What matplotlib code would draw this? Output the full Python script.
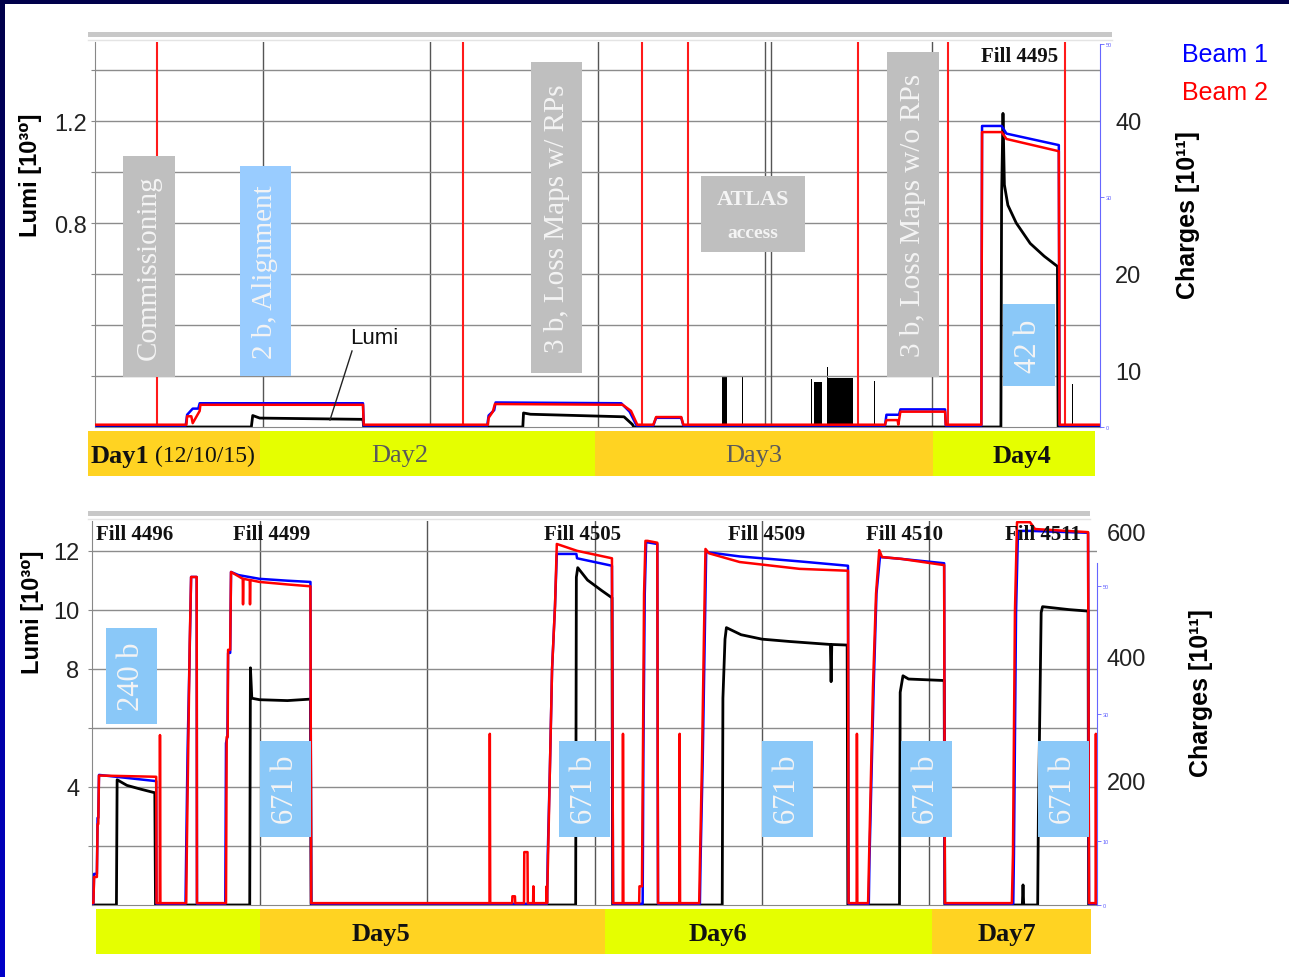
import matplotlib
matplotlib.use("Agg")
import matplotlib.pyplot as plt
import numpy as np
from matplotlib.colors import LinearSegmentedColormap
from matplotlib.patches import Rectangle

plt.rcParams["font.family"] = ["Liberation Sans", "DejaVu Sans"]
SERIF = ["Liberation Serif", "DejaVu Serif"]

# x is hours since 12:00 on 12/10/15 (each panel shows 72 h), charges in 1e11, lumi in 1e30
GRID_HOURS = [12, 24, 36, 48, 60]

# ---- top panel (Day1-Day4) ----
TOP_B1_H = [0, 6.5, 6.6, 7.0, 7.4, 7.5, 19.2, 19.25,
            28.1, 28.2, 28.6, 28.7, 37.7, 38.3, 38.8,
            40.0, 40.2, 42.0, 42.15,
            56.6, 56.7, 57.6, 57.7, 60.9, 60.95,
            63.5, 63.55, 64.95, 65.3, 69.05, 69.1, 72]
TOP_B1_Q = [0.2, 0.2, 1.6, 2.4, 2.4, 3.1, 3.1, 0.2,
            0.2, 1.5, 2.2, 3.2, 3.1, 2.0, 0.2,
            0.2, 1.2, 1.2, 0.2,
            0.2, 1.6, 1.6, 2.3, 2.3, 0.2,
            0.2, 39.3, 39.3, 38.3, 36.8, 0.2, 0.2]
TOP_B2_H = [0, 6.55, 6.6, 6.9, 7.0, 7.5, 7.55, 19.2, 19.25,
            28.15, 28.2, 28.5, 28.65, 37.8, 38.4, 38.85,
            40.0, 40.2, 42.0, 42.15,
            56.6, 56.7, 57.5, 57.55, 57.7, 60.9, 60.95,
            63.5, 63.55, 64.95, 65.3, 69.05, 69.1, 72]
TOP_B2_Q = [0.3, 0.3, 1.4, 1.4, 0.5, 2.1, 2.9, 2.9, 0.3,
            0.3, 1.2, 2.0, 3.0, 2.9, 2.1, 0.3,
            0.3, 1.3, 1.3, 0.3,
            0.3, 0.9, 0.9, 0.3, 2.0, 2.0, 0.3,
            0.3, 38.5, 38.5, 37.6, 36.0, 0.3, 0.3]
TOP_LUMI_H = [0, 11.2, 11.3, 11.8, 19.2, 19.25,
              30.65, 30.7, 31.2, 37.9, 38.5, 38.6,
              64.9, 64.95, 65.05, 65.15, 65.4, 66.0, 67.0, 68.0, 68.95, 69.0, 72]
TOP_LUMI_V = [0, 0, 0.045, 0.035, 0.03, 0,
              0, 0.055, 0.05, 0.04, 0.01, 0,
              0, 0.9, 1.23, 0.95, 0.87, 0.8, 0.72, 0.67, 0.63, 0, 0]
# short lumi bursts during the ATLAS access period
TOP_SPIKE_H = [44.92, 46.35, 51.3, 51.5, 52.44, 52.44, 55.8, 70.0]
TOP_SPIKE_W = [0.36, 0.08, 0.1, 0.57, 0.08, 1.86, 0.06, 0.06]
TOP_SPIKE_V = [0.2, 0.2, 0.19, 0.177, 0.235, 0.192, 0.18, 0.17]
TOP_MARKERS = [4.44, 26.36, 39.19, 42.48, 54.66, 61.11, 69.49]
TOP_EXTRA_LINE = 48.43

TOP_DAYS = ["Day1", "Day2", "Day3", "Day4"]
TOP_DAY_START = [-0.5, 11.82, 35.82, 60.04]
TOP_DAY_END = [11.82, 35.82, 60.04, 71.64]
TOP_DAY_TEXT_H = [-0.35, 21.8, 47.2, 66.4]
TOP_DAY_BOLD = [True, False, False, True]
TOP_DAY_NOTE = "(12/10/15)"
TOP_DAY_NOTE_H = 4.3

# ---- bottom panel (Day5-Day7) ----
BOT_B2_H = [0.0, 0.1, 0.15, 0.35, 0.4, 0.45, 0.5, 4.6, 4.62,
            4.85, 4.87, 4.9,
            6.75, 6.8, 6.9, 7.0, 7.1, 7.5, 7.52,
            9.6, 9.65, 9.72, 9.75, 9.9, 9.96, 10.5, 10.8, 10.82, 10.85, 11.3, 11.32, 11.35, 12.0, 14.0, 15.65, 15.7,
            28.48, 28.5, 28.53,
            30.1, 30.12, 30.3, 30.32, 30.95, 30.97, 31.2, 31.22, 31.6, 31.62, 31.65,
            32.55, 32.57, 32.6, 32.67, 32.8, 32.96, 33.17, 33.3, 34.75, 37.25, 37.33,
            38.02, 38.04, 38.07,
            39.2, 39.22, 39.4, 39.47, 39.55, 39.65, 39.8, 40.5, 40.55,
            42.08, 42.1, 42.13,
            43.5, 43.56, 43.7, 43.84, 43.95, 44.2, 46.4, 50.7, 54.16, 54.2,
            54.78, 54.8, 54.83,
            55.6, 55.67, 55.95, 56.17, 56.4, 56.6, 58.0, 61.05, 61.1,
            65.9, 65.98, 66.12, 66.27, 67.2, 67.56, 71.36, 71.43,
            71.9, 71.92, 71.95]
BOT_B2_Q = [3, 3, 45, 45, 130, 130, 208, 206, 3,
            3, 273, 3,
            3, 100, 260, 420, 527, 527, 3,
            3, 270, 270, 410, 410, 535, 528, 524, 483, 524, 522, 483, 522, 519, 515, 512, 3,
            3, 275, 3,
            3, 14, 14, 3, 3, 85, 85, 3, 3, 30, 3,
            3, 30, 3, 74, 214, 379, 480, 580, 569, 557, 3,
            3, 275, 3,
            3, 30, 30, 240, 500, 585, 585, 582, 3,
            3, 275, 3,
            3, 74, 230, 432, 572, 565, 551, 540, 537, 3,
            3, 275, 3,
            3, 74, 350, 500, 570, 559, 556, 546, 3,
            3, 82, 470, 615, 615, 604, 599, 3,
            3, 275, 3]
BOT_B1_H = [0.0, 0.1, 0.15, 0.35, 0.4, 0.45, 0.5, 4.6, 4.62,
            6.7, 6.75, 6.85, 7.0, 7.1, 7.5, 7.52,
            9.55, 9.6, 9.7, 9.75, 9.9, 9.96, 10.5, 12.0, 14.0, 15.65, 15.7,
            32.6, 32.65, 32.8, 32.96, 33.17, 33.3, 34.7, 34.75, 37.25, 37.33,
            39.45, 39.5, 39.6, 39.7, 40.5, 40.55,
            43.55, 43.6, 43.75, 43.9, 44.0, 46.4, 50.7, 54.16, 54.2,
            55.65, 55.7, 56.0, 56.2, 56.45, 58.0, 61.05, 61.1,
            66.0, 66.05, 66.2, 66.34, 67.2, 71.36, 71.43, 72]
BOT_B1_Q = [2, 2, 50, 50, 140, 140, 209, 199, 2,
            2, 90, 250, 410, 527, 527, 2,
            2, 260, 270, 405, 405, 535, 530, 524, 521, 519, 2,
            2, 80, 214, 379, 480, 564, 564, 557, 545, 2,
            2, 240, 500, 583, 580, 2,
            2, 74, 230, 432, 567, 560, 552, 545, 2,
            2, 74, 350, 500, 559, 556, 549, 2,
            2, 82, 470, 601, 601, 598, 2, 2]
BOT_LUMI_H = [0, 1.75, 1.8, 2.5, 3.5, 4.5, 4.55,
              11.3, 11.35, 11.45, 12.0, 14.0, 15.65, 15.7,
              34.65, 34.7, 34.8, 35.5, 36.5, 37.25, 37.3,
              45.15, 45.2, 45.35, 45.45, 46.5, 48.0, 50.0, 52.9, 52.95, 53.0, 54.1, 54.15,
              57.85, 57.9, 58.1, 58.5, 61.05, 61.1,
              66.65, 66.7, 66.75, 67.75, 67.8, 68.0, 68.1, 70.0, 71.36, 71.4, 72]
BOT_LUMI_V = [0, 0, 4.24, 4.05, 3.92, 3.8, 0,
              0, 8.03, 7.0, 6.95, 6.92, 6.97, 0,
              0, 11.1, 11.42, 11.0, 10.65, 10.4, 0,
              0, 7.0, 9.0, 9.39, 9.15, 9.0, 8.92, 8.82, 7.56, 8.82, 8.8, 0,
              0, 7.2, 7.76, 7.65, 7.6, 0,
              0, 0.68, 0, 0, 3.0, 9.9, 10.1, 10.0, 9.95, 0, 0]

BOT_DAYS = ["", "Day5", "Day6", "Day7"]
BOT_DAY_START = [0.29, 12.04, 36.75, 60.18]
BOT_DAY_END = [12.04, 36.75, 60.18, 71.57]
BOT_DAY_TEXT_H = [6.0, 20.7, 44.85, 65.55]

DAY_COLORS = ["#FFD322", "#E5FF00"]
W, H = 1289, 978

fig = plt.figure(figsize=(W / 100, H / 100), dpi=100)


def px_axes(left, top, right, bottom):
    return fig.add_axes([left / W, 1 - bottom / H, (right - left) / W, (bottom - top) / H])


def panel(rect, lumi_lim, lumi_ticks, lumi_labels, lumi_pad, q_lim, q_ticks, q_labels,
          q_pad, q_minor, q_minor_labels, spine_top):
    ax = px_axes(*rect)
    ax.set_xlim(0, 72)
    ax.set_ylim(*lumi_lim)
    ax.set_xticks(GRID_HOURS)
    ax.tick_params(axis="x", length=0, labelbottom=False)
    ax.set_yticks(lumi_ticks)
    ax.set_yticklabels(lumi_labels)
    ax.tick_params(axis="y", length=3, width=0.8, color="#888888", pad=lumi_pad,
                   labelsize=17, labelcolor="#222222")
    ax.grid(axis="y", color="#8c8c8c", lw=1.0)
    ax.grid(axis="x", color="#555555", lw=1.0)
    for s in ("top", "right"):
        ax.spines[s].set_visible(False)
    ax.spines["left"].set_color("#888888")
    ax.spines["bottom"].set_color("#888888")

    axc = ax.twinx()
    axc.set_ylim(*q_lim)
    axc.set_yticks(q_ticks)
    axc.set_yticklabels(q_labels)
    axc.tick_params(axis="y", which="major", length=0, pad=q_pad, labelsize=17,
                    labelcolor="#222222")
    axc.set_yticks(q_minor, minor=True)
    axc.set_yticklabels(q_minor_labels, minor=True)
    axc.tick_params(axis="y", which="minor", length=3, width=0.6, color="#6060ff",
                    labelsize=4, labelcolor="#6060ff", pad=1)
    for s in ("top", "left", "bottom"):
        axc.spines[s].set_visible(False)
    axc.spines["right"].set_color("#6666ff")
    axc.spines["right"].set_bounds(0, spine_top)
    return ax, axc


def day_bars(ax, starts, ends, y0, hgt, first_color):
    tr = ax.get_xaxis_transform()
    for i, (s, e) in enumerate(zip(starts, ends)):
        col = DAY_COLORS[(i + first_color) % 2]
        ax.add_patch(Rectangle((s, y0), e - s, hgt, transform=tr, facecolor=col,
                               lw=0, clip_on=False, zorder=5))


def day_text(ax, x, label, bold, ha="center", size=19):
    ax.text(x, -0.074, label, transform=ax.get_xaxis_transform(), ha=ha, va="center",
            family=SERIF, size=size, weight="bold" if bold else "normal",
            color="#111111" if bold else "#5a5a5a", zorder=6)


# top panel
ax1, ax1c = panel((95, 43, 1100, 428), (0, 1.51), [0.2, 0.4, 0.6, 0.8, 1.0, 1.2, 1.4],
                  ["", "", "", "0.8", "", "1.2", ""], 3,
                  (0, 50.26), [7.4, 20, 40], ["10", "20", "40"], 11,
                  [0, 30, 50], ["0", "30", "50"], 50)
ax1.axvline(TOP_EXTRA_LINE, color="#555555", lw=1.0)
for h in TOP_MARKERS:
    ax1.axvline(h, color="#FF1A1A", lw=1.5)
ax1.bar(TOP_SPIKE_H, TOP_SPIKE_V, width=TOP_SPIKE_W, align="edge", color="black", lw=0)
ax1.plot(TOP_LUMI_H, TOP_LUMI_V, color="black", lw=2.0)
ax1c.plot(TOP_B1_H, TOP_B1_Q, color="#0000FF", lw=1.8)
ax1c.plot(TOP_B2_H, TOP_B2_Q, color="#FF0000", lw=1.8)
day_bars(ax1, TOP_DAY_START, TOP_DAY_END, -0.1273, 0.1169, 0)
for i, (name, x, bold) in enumerate(zip(TOP_DAYS, TOP_DAY_TEXT_H, TOP_DAY_BOLD)):
    day_text(ax1, x, name, bold, ha="left" if i == 0 else "center")
ax1.text(TOP_DAY_NOTE_H, -0.074, TOP_DAY_NOTE, transform=ax1.get_xaxis_transform(),
         ha="left", va="center", family=SERIF, size=17, color="#111111", zorder=6)

# bottom panel
ax2, ax2c = panel((92, 522, 1097, 906), (0, 13.0), [2, 4, 6, 8, 10, 12],
                  ["", "4", "", "8", "10", "12"], 6,
                  (0, 616.9), [200, 400, 600], ["200", "400", "600"], 7,
                  [0, 103, 307, 512], ["0", "10", "30", "50"], 550)
ax2.plot(BOT_LUMI_H, BOT_LUMI_V, color="black", lw=2.0)
ax2c.plot(BOT_B1_H, BOT_B1_Q, color="#0000FF", lw=1.8)
ax2c.plot(BOT_B2_H, BOT_B2_Q, color="#FF0000", lw=1.8)
day_bars(ax2, BOT_DAY_START, BOT_DAY_END, -0.1276, 0.1172, 1)
for name, x in zip(BOT_DAYS, BOT_DAY_TEXT_H):
    if name:
        day_text(ax2, x, name, True)

# overlay in pixel coordinates for the slide decorations
ov = fig.add_axes([0, 0, 1, 1], zorder=10)
ov.patch.set_visible(False)
navy = LinearSegmentedColormap.from_list("navy", ["#00004A", "#0000C8"])
ov.imshow(np.linspace(0, 1, 200)[:, None], extent=(0, 5, H, 0), cmap=navy, aspect="auto")
ov.add_patch(Rectangle((0, 0), W, 5, facecolor="#00004A", lw=0))
ov.set_xlim(0, W)
ov.set_ylim(H, 0)
ov.axis("off")

for (x0, x1, y) in [(88, 1112, 33), (88, 1090, 512)]:
    ov.add_patch(Rectangle((x0, y), x1 - x0, 5, facecolor="#C8C8C8", lw=0))
    ov.plot([x0, x1], [y + 8, y + 8], color="#E4E4E4", lw=1)

GRAY_BOX = "#BFBFBF"
BLUE_BOX = "#99CCFF"
BLUE_BOX2 = "#8AC8F8"


def box(x0, y0, x1, y1, color, text, size=21):
    ov.add_patch(Rectangle((x0, y0), x1 - x0, y1 - y0, facecolor=color, lw=0))
    if text:
        ov.text((x0 + x1) / 2, (y0 + y1) / 2, text, rotation=90, ha="center", va="center",
                family=SERIF, size=size, color="#F4F4F4")


box(123, 157, 175, 378, GRAY_BOX, "Commissioning")
box(240, 167, 291, 377, BLUE_BOX, "2 b, Alignment")
box(531, 63, 582, 374, GRAY_BOX, "3 b, Loss Maps w/ RPs")
box(887, 53, 939, 378, GRAY_BOX, "3 b, Loss Maps w/o RPs")
box(1003, 305, 1055, 387, BLUE_BOX2, "42 b", 22)
box(701, 177, 805, 253, GRAY_BOX, "")
ov.text(753, 200, "ATLAS", ha="center", va="center", family=SERIF, size=16, weight="bold",
        color="#F4F4F4")
ov.text(753, 234, "access", ha="center", va="center", family=SERIF, size=14, weight="bold",
        color="#F4F4F4")

box(106, 629, 157, 725, BLUE_BOX2, "240 b", 22)
for x0 in [260, 559, 762, 901, 1038]:
    box(x0, 742, x0 + 51, 838, BLUE_BOX2, "671 b", 22)

ov.text(1020, 57, "Fill 4495", ha="center", va="center", family=SERIF, size=15,
        weight="bold", color="#111111")
for x, lab in zip([135, 272, 583, 767, 905, 1043],
                  ["Fill 4496", "Fill 4499", "Fill 4505", "Fill 4509", "Fill 4510", "Fill 4511"]):
    ov.text(x, 535, lab, ha="center", va="center", family=SERIF, size=15, weight="bold",
            color="#111111")

ov.text(374, 338, "Lumi", ha="center", va="center", size=16, color="#111111")
ov.plot([352, 330], [352, 421], color="#222222", lw=1)

ov.text(1225, 55, "Beam 1", ha="center", va="center", size=18, color="#0000FF")
ov.text(1225, 93, "Beam 2", ha="center", va="center", size=18, color="#FF0000")

ov.text(30, 175, "Lumi [10³⁰]", rotation=90, ha="center", va="center", size=17, weight="bold")
ov.text(33, 612, "Lumi [10³⁰]", rotation=90, ha="center", va="center", size=17, weight="bold")
ov.text(1188, 215, "Charges [10¹¹]", rotation=90, ha="center", va="center", size=18,
        weight="bold")
ov.text(1201, 693, "Charges [10¹¹]", rotation=90, ha="center", va="center", size=18,
        weight="bold")

fig.savefig("out.png", dpi=100)
